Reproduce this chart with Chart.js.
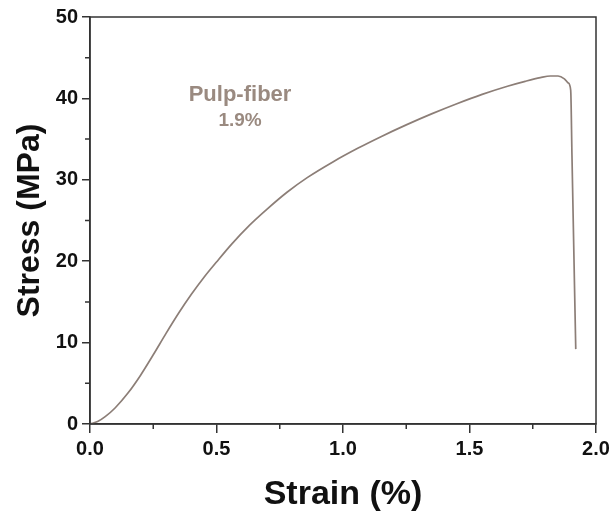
<!DOCTYPE html>
<html lang="en">
<head>
  <meta charset="UTF-8" />
  <title>Stress-strain</title>
  <script src="https://cdn.jsdelivr.net/npm/chart.js"></script>
  <style>
    html, body { margin: 0; padding: 0; background: #fff; }
    #wrap { width: 615px; height: 517px; }
  </style>
</head>
<body>
<div id="wrap"><canvas id="chart" width="615" height="517"></canvas></div>
<script>
  // strain (%) and stress (MPa)
  const strain = [0, 0.03, 0.06, 0.10, 0.15, 0.20, 0.25, 0.30, 0.35, 0.40, 0.45, 0.50, 0.56, 0.63, 0.70, 0.78, 0.86, 0.96, 1.06, 1.15, 1.25, 1.35, 1.45, 1.55, 1.65, 1.72, 1.78, 1.82, 1.85, 1.875, 1.89, 1.90, 1.905, 1.91, 1.915, 1.92];
  const stress = [0, 0.3, 0.9, 2.0, 3.8, 6.0, 8.5, 11.1, 13.6, 15.9, 18.0, 19.9, 22.1, 24.4, 26.4, 28.5, 30.3, 32.2, 33.9, 35.3, 36.75, 38.1, 39.35, 40.5, 41.5, 42.1, 42.55, 42.75, 42.75, 42.4, 41.9, 41.0, 33, 25, 17, 9.2];
  const xTicks = [0, 0.5, 1.0, 1.5, 2.0];
  const yTicks = [0, 10, 20, 30, 40, 50];
  const labelLines = ['Pulp-fiber', '1.9%'];

  const points = strain.map((x, i) => ({ x: x, y: stress[i] }));
  const curveColor = '#8c7e77';
  const textColor = '#9a8a80';
  const fontFam = '"Liberation Sans", Arial, sans-serif';

  // box frame + minor ticks + sample label
  const extras = {
    id: 'extras',
    afterDraw(chart) {
      const ctx = chart.ctx;
      const a = chart.chartArea;
      const xs = chart.scales.x, ys = chart.scales.y;
      ctx.save();
      ctx.strokeStyle = '#333';
      ctx.lineWidth = 1.5;
      ctx.strokeRect(a.left, a.top, a.right - a.left, a.bottom - a.top);

      ctx.beginPath();
      for (let i = 0; i < xTicks.length - 1; i++) {
        const px = xs.getPixelForValue((xTicks[i] + xTicks[i + 1]) / 2);
        ctx.moveTo(px, a.bottom);
        ctx.lineTo(px, a.bottom + 5);
      }
      for (let i = 0; i < yTicks.length - 1; i++) {
        const py = ys.getPixelForValue((yTicks[i] + yTicks[i + 1]) / 2);
        ctx.moveTo(a.left, py);
        ctx.lineTo(a.left - 5, py);
      }
      ctx.stroke();

      ctx.fillStyle = textColor;
      ctx.textAlign = 'center';
      ctx.textBaseline = 'middle';
      ctx.font = 'bold 22px ' + fontFam;
      ctx.fillText(labelLines[0], xs.getPixelForValue(0.593), ys.getPixelForValue(40.4));
      ctx.font = 'bold 19px ' + fontFam;
      ctx.fillText(labelLines[1], xs.getPixelForValue(0.593), ys.getPixelForValue(37.2));
      ctx.restore();
    }
  };

  new Chart(document.getElementById('chart').getContext('2d'), {
    type: 'scatter',
    data: {
      datasets: [{
        data: points,
        showLine: true,
        borderColor: curveColor,
        borderWidth: 1.7,
        pointRadius: 0,
        cubicInterpolationMode: 'monotone',
        fill: false
      }]
    },
    options: {
      responsive: false,
      animation: false,
      layout: { padding: { left: 0, top: 17, right: 19, bottom: 0 } },
      plugins: { legend: { display: false }, tooltip: { enabled: false } },
      scales: {
        x: {
          type: 'linear',
          min: 0,
          max: 2.0,
          afterBuildTicks: s => { s.ticks = xTicks.map(v => ({ value: v })); },
          afterFit: s => { s.height = 93; },
          border: { color: '#333', width: 1.5 },
          grid: { drawOnChartArea: false, tickLength: 9, color: '#333', lineWidth: 1.5 },
          ticks: {
            color: '#111',
            padding: 4,
            font: { family: fontFam, size: 20, weight: 'bold' },
            callback: v => v.toFixed(1)
          },
          title: {
            display: true,
            text: 'Strain (%)',
            color: '#111',
            padding: { top: 0, bottom: 2 },
            font: { family: fontFam, size: 34, weight: 'bold' }
          }
        },
        y: {
          type: 'linear',
          min: 0,
          max: 50,
          afterBuildTicks: s => { s.ticks = yTicks.map(v => ({ value: v })); },
          afterFit: s => { s.width = 90; },
          border: { color: '#333', width: 1.5 },
          grid: { drawOnChartArea: false, tickLength: 8, color: '#333', lineWidth: 1.5 },
          ticks: {
            color: '#111',
            padding: 4,
            font: { family: fontFam, size: 20, weight: 'bold' }
          },
          title: {
            display: true,
            text: 'Stress (MPa)',
            color: '#111',
            padding: { top: 11, bottom: 0 },
            font: { family: fontFam, size: 32, weight: 'bold' }
          }
        }
      }
    },
    plugins: [extras]
  });
</script>
</body>
</html>
